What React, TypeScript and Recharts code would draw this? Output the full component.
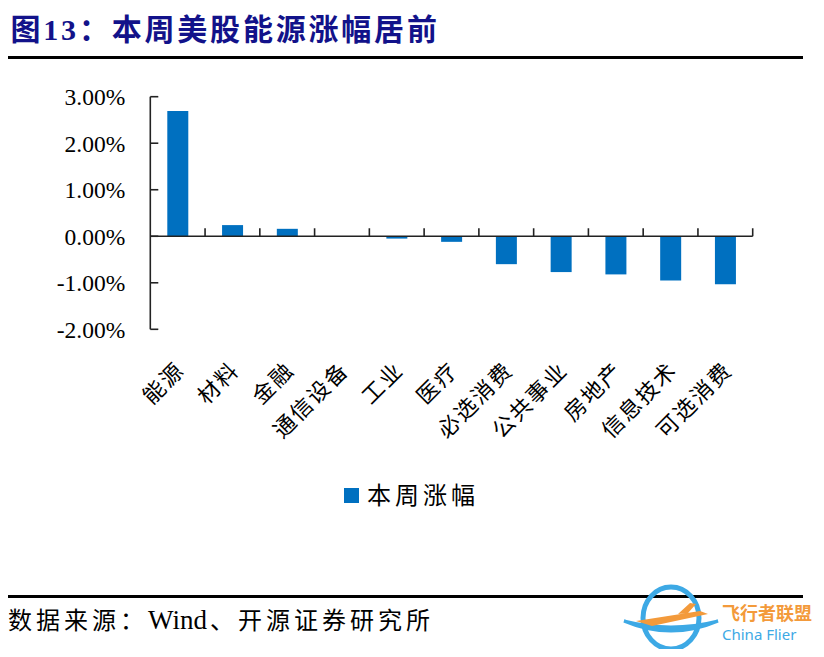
import { BarChart, Bar, XAxis, YAxis, Legend, ReferenceLine } from 'recharts';

// 本周美股各板块涨幅 (%)
const sectors = ['能源', '材料', '金融', '通信设备', '工业', '医疗', '必选消费', '公共事业', '房地产', '信息技术', '可选消费'];
const weeklyChange = [2.69, 0.24, 0.16, -0.01, -0.05, -0.12, -0.6, -0.77, -0.82, -0.95, -1.03];
const yTicks = [-2, -1, 0, 1, 2, 3];

const data = sectors.map((name, i) => ({ name, value: weeklyChange[i] }));

const SERIF = "'Liberation Serif', 'Times New Roman', 'Noto Sans CJK SC', serif";
const BLUE = '#0070C0';

function SectorTick({ x, y, payload }: any) {
  const ax = x + 3;
  const ay = y + 37;
  return (
    <text
      x={ax}
      y={ay}
      transform={`rotate(-45 ${ax} ${ay})`}
      textAnchor="end"
      dominantBaseline="central"
      fontSize={22}
      letterSpacing={2}
      fontFamily={SERIF}
      fill="#000"
    >
      {payload.value}
    </text>
  );
}

// zero line with the category ticks pointing up
function ZeroAxis(props: any) {
  const { x1, y1, x2 } = props;
  const n = sectors.length;
  const step = (x2 - x1) / n;
  return (
    <g>
      <line x1={x1} y1={y1} x2={x2} y2={y1} stroke="#222" strokeWidth={1.6} />
      {sectors.map((_, i) => {
        const tx = x1 + step * (i + 1);
        return <line key={i} x1={tx} y1={y1} x2={tx} y2={y1 - 8} stroke="#222" strokeWidth={1.6} />;
      })}
    </g>
  );
}

function LegendBox() {
  return (
    <div style={{ position: 'relative', height: 30 }}>
      <span style={{ position: 'absolute', left: 336, top: 7.5, width: 15, height: 15, background: BLUE }} />
      <span
        style={{
          position: 'absolute',
          left: 359,
          top: 0,
          fontSize: 24,
          lineHeight: '30px',
          letterSpacing: 4,
          fontFamily: SERIF,
          color: '#000',
          whiteSpace: 'nowrap',
        }}
      >
        本周涨幅
      </span>
    </div>
  );
}

export default function App() {
  return (
    <div style={{ position: 'relative', width: 808, height: 641, background: '#fff' }}>
      <div
        style={{
          position: 'absolute',
          left: 2.5,
          top: 6.5,
          fontSize: 30,
          lineHeight: '30px',
          fontWeight: 'bold',
          letterSpacing: 2.8,
          color: '#12128a',
          fontFamily: SERIF,
          whiteSpace: 'nowrap',
        }}
      >
        图13：本周美股能源涨幅居前
      </div>
      <div style={{ position: 'absolute', left: 0, top: 48, width: 795, height: 3, background: '#000' }} />

      <div style={{ position: 'absolute', left: 0, top: 0 }}>
        <BarChart
          width={800}
          height={510}
          data={data}
          margin={{ top: 88.7, right: 55.3, left: 0, bottom: 7.5 }}
        >
          <XAxis
            dataKey="name"
            axisLine={false}
            tickLine={false}
            tickSize={0}
            tickMargin={0}
            height={151.2}
            interval={0}
            tick={<SectorTick />}
          />
          <YAxis
            width={142.3}
            domain={[-2, 3]}
            ticks={yTicks}
            interval={0}
            tickFormatter={(v: number) => v.toFixed(2) + '%'}
            axisLine={{ stroke: '#222', strokeWidth: 1.6 }}
            tickLine={{ stroke: '#222', strokeWidth: 1.6 }}
            tickSize={-8}
            tickMargin={33}
            tick={{ fontSize: 23.5, fontFamily: SERIF, fill: '#000' }}
          />
          <ReferenceLine y={0} shape={<ZeroAxis />} />
          <Bar dataKey="value" name="本周涨幅" fill={BLUE} barSize={21} isAnimationActive={false} />
          <Legend verticalAlign="bottom" height={30} content={<LegendBox />} />
        </BarChart>
      </div>

      <div style={{ position: 'absolute', left: 0, top: 587, width: 795, height: 3, background: '#000' }} />
      <div
        style={{
          position: 'absolute',
          left: 0,
          top: 600,
          fontSize: 24,
          lineHeight: '24px',
          letterSpacing: 4,
          color: '#000',
          fontFamily: SERIF,
          whiteSpace: 'nowrap',
        }}
      >
        数据来源：<span style={{ fontSize: 27, letterSpacing: 0, marginRight: 3 }}>Wind</span>、开源证券研究所
      </div>

      {/* watermark */}
      <svg style={{ position: 'absolute', left: 600, top: 575 }} width={208} height={66}>
        <ellipse cx={63} cy={35} rx={28} ry={31} fill="none" stroke="#3DA9E5" strokeWidth={5} />
        <path d="M16 38 Q63 58 110 38 Q63 50 16 38 Z" fill="#3DA9E5" stroke="#3DA9E5" strokeWidth={3} />
        <path d="M28 38 L92 28 L100 31 L44 43 Z M70 31 L82 20 L88 21 L80 30 Z" fill="#F39A3B" />
        <text x={114} y={37} fontSize={18} fill="#F39A3B" fontFamily="'Noto Sans CJK SC', sans-serif" fontWeight="bold">
          飞行者联盟
        </text>
        <text x={114} y={57} fontSize={15} fill="#3DA9E5" fontFamily="'Noto Sans', sans-serif">
          China Flier
        </text>
      </svg>
    </div>
  );
}
